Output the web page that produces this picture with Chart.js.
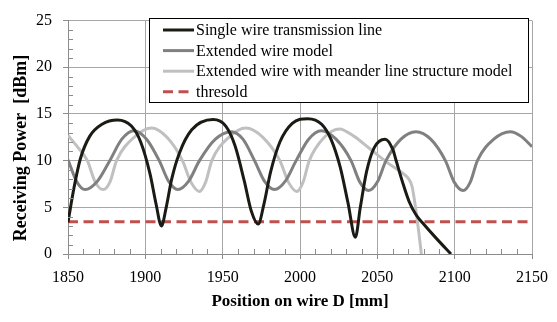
<!DOCTYPE html>
<html>
<head>
<meta charset="utf-8">
<script src="https://cdn.jsdelivr.net/npm/chart.js@4.4.0/dist/chart.umd.min.js"></script>
<style>
  html, body { margin: 0; padding: 0; background: #fff; }
</style>
</head>
<body>
<canvas id="myChart" width="557" height="322"></canvas>
<script>
// values (x = position on wire D [mm], y = dBm)
var singleX = [1850, 1854, 1858, 1864, 1872, 1882, 1891, 1897, 1903, 1907, 1910.4, 1913.5, 1917, 1922, 1930, 1943.8, 1952, 1958, 1964, 1968.5, 1973, 1976.5, 1981, 1987, 1995, 2005, 2014, 2020, 2026, 2031, 2035.8, 2039, 2043, 2048, 2055, 2060, 2062, 2066.3, 2070.6, 2075, 2079.2, 2088, 2097.6];
var singleY = [3.4, 7.2, 10.2, 12.6, 13.9, 14.35, 13.7, 12.0, 8.6, 5.3, 3.0, 5.0, 8.0, 10.8, 13.3, 14.4, 13.7, 11.6, 7.8, 4.6, 3.2, 5.2, 8.8, 12.0, 14.0, 14.5, 13.9, 12.3, 9.3, 5.5, 1.8, 5.0, 8.8, 11.4, 12.3, 11.2, 10.1, 7.7, 5.6, 4.2, 3.35, 1.7, 0];

var extX = [1850, 1855.5, 1861, 1869, 1877, 1884.8, 1892.6, 1900.8, 1909, 1915, 1921, 1928, 1935, 1945.3, 1955.6, 1963.1, 1970.6, 1977, 1983.5, 1990.5, 1997.5, 2005.6, 2013.7, 2023.3, 2033, 2038.7, 2044.4, 2050, 2055.6, 2065.3, 2075, 2084.5, 2094, 2099.7, 2105.5, 2110.1, 2114.7, 2125.3, 2136, 2143, 2150];
var extY = [10.1, 7.8, 6.9, 7.8, 10, 12.3, 13.2, 12.3, 10, 7.8, 6.9, 7.8, 10, 12.3, 13.1, 12.3, 10, 7.8, 6.9, 7.8, 10, 12.3, 13.2, 12.3, 10, 7.7, 6.8, 7.7, 10, 12.3, 13.1, 12.3, 10, 7.7, 6.8, 7.7, 10, 12.3, 13.1, 12.6, 11.5];

var meanderX = [1850, 1856, 1862.5, 1867.6, 1872.8, 1877.1, 1881.4, 1892.7, 1904, 1914, 1924, 1929.5, 1935, 1939, 1943, 1954, 1965, 1976, 1987, 1992.5, 1998, 2002, 2006, 2015.7, 2025.5, 2035, 2045, 2058, 2066, 2070, 2072.5, 2075.5, 2078.5];
var meanderY = [12.7, 11.5, 10, 7.7, 6.9, 7.7, 10, 12.5, 13.5, 12.5, 10, 7.7, 6.7, 7.7, 10, 12.5, 13.5, 12.5, 10, 7.7, 6.7, 7.7, 10, 12.5, 13.4, 12.6, 11.3, 9.6, 8.7, 8.1, 7.2, 4.0, 0];

var thresholdX = [1850, 2150];
var thresholdY = [3.45, 3.45];

var labels = ['Single wire transmission line', 'Extended wire model', 'Extended wire with meander line structure model', 'thresold'];

function pts(xs, ys) {
    return xs.map(function (x, i) { return {x: x, y: ys[i]}; });
}

var serif = '"Liberation Serif", "Times New Roman", serif';

// minor tick marks inside the plot area
var minorTicks = {
    id: 'minorTicks',
    afterDatasetsDraw: function (chart) {
        var ctx = chart.ctx, a = chart.chartArea;
        var xs = chart.scales.x, ys = chart.scales.y;
        ctx.save();
        ctx.strokeStyle = '#8c8c8c';
        ctx.lineWidth = 1;
        ctx.beginPath();
        for (var v = 1860; v < 2150; v += 10) {
            if (v % 50 === 0) continue;
            var px = Math.round(xs.getPixelForValue(v)) + 0.5;
            ctx.moveTo(px, a.bottom);
            ctx.lineTo(px, a.bottom - 5);
        }
        for (var w = 1; w < 25; w++) {
            if (w % 5 === 0) continue;
            var py = Math.round(ys.getPixelForValue(w)) + 0.5;
            ctx.moveTo(a.left, py);
            ctx.lineTo(a.left + 5, py);
        }
        ctx.stroke();
        ctx.restore();
    }
};

// boxed legend inside the plot + y axis title
var boxLegend = {
    id: 'boxLegend',
    afterDraw: function (chart) {
        var ctx = chart.ctx;
        ctx.save();
        ctx.fillStyle = '#fff';
        ctx.fillRect(149.5, 18.5, 379, 84);
        ctx.strokeStyle = '#000';
        ctx.lineWidth = 1;
        ctx.strokeRect(149.5, 18.5, 379, 84);
        ctx.font = '16px ' + serif;
        ctx.textBaseline = 'middle';
        chart.data.datasets.forEach(function (ds, i) {
            var y = 30 + i * 20.6;
            ctx.strokeStyle = ds.borderColor;
            ctx.lineWidth = 3;
            ctx.setLineDash(ds.borderDash || []);
            ctx.beginPath();
            ctx.moveTo(163, y);
            ctx.lineTo(194, y);
            ctx.stroke();
            ctx.setLineDash([]);
            ctx.fillStyle = '#000';
            ctx.fillText(ds.label, 196, y + 1);
        });

        // y axis title
        ctx.translate(21, 148);
        ctx.rotate(-Math.PI / 2);
        ctx.font = 'bold 18px ' + serif;
        ctx.textAlign = 'center';
        ctx.fillText('Receiving Power  [dBm]', 0, 0);
        ctx.restore();
    }
};

var ctx = document.getElementById('myChart').getContext('2d');
var myChart = new Chart(ctx, {
    type: 'line',
    data: {
        datasets: [{
            label: labels[0],
            data: pts(singleX, singleY),
            borderColor: '#1b1b15',
            borderWidth: 3
        }, {
            label: labels[1],
            data: pts(extX, extY),
            borderColor: '#808080',
            borderWidth: 3
        }, {
            label: labels[2],
            data: pts(meanderX, meanderY),
            borderColor: '#c0c0c0',
            borderWidth: 3
        }, {
            label: labels[3],
            data: pts(thresholdX, thresholdY),
            borderColor: '#c0504d',
            borderWidth: 3,
            borderDash: [10, 5.5]
        }]
    },
    options: {
        responsive: false,
        animation: false,
        devicePixelRatio: 1,
        layout: { padding: { top: 13, right: 24, left: 0, bottom: 0 } },
        elements: {
            point: { radius: 0 },
            line: { cubicInterpolationMode: 'monotone', fill: false }
        },
        plugins: {
            legend: { display: false },
            tooltip: { enabled: false }
        },
        scales: {
            x: {
                type: 'linear',
                min: 1850,
                max: 2150,
                afterFit: function (s) { s.height = 68; },
                ticks: {
                    stepSize: 50, color: '#000', padding: 9, maxRotation: 0,
                    font: { family: serif, size: 16 },
                    callback: function (v) { return String(v); }
                },
                grid: { color: '#a6a6a6', tickLength: 5, tickColor: '#8c8c8c' },
                border: { color: '#8c8c8c' },
                title: { display: true, text: 'Position on wire D [mm]', color: '#000', padding: 10, font: { family: serif, size: 17, weight: 'bold' } }
            },
            y: {
                min: 0,
                max: 25,
                afterFit: function (s) { s.width = 68; },
                ticks: { stepSize: 5, color: '#000', padding: 11, font: { family: serif, size: 16 } },
                grid: { color: '#a6a6a6', tickLength: 5, tickColor: '#8c8c8c' },
                border: { color: '#8c8c8c' }
            }
        }
    },
    plugins: [minorTicks, boxLegend]
});
</script>
</body>
</html>
